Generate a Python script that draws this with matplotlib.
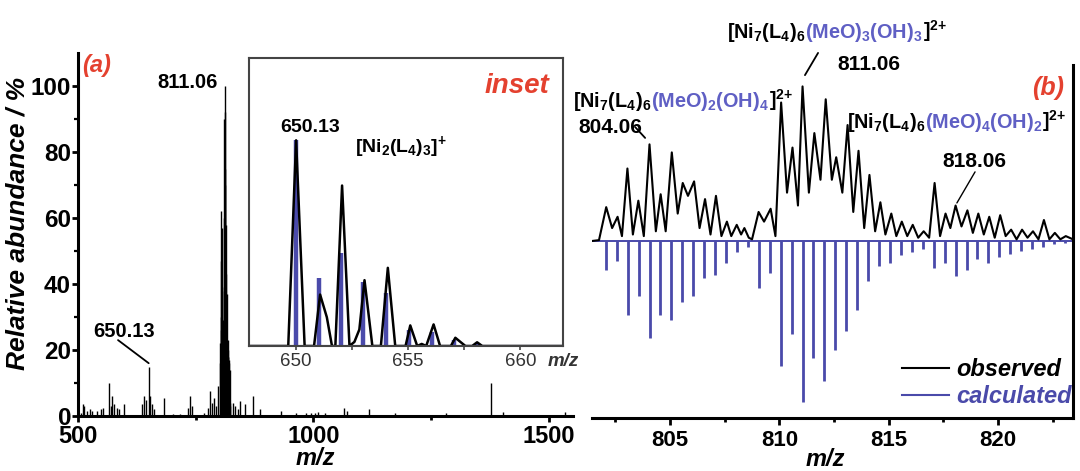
import matplotlib
matplotlib.use('Agg')
import matplotlib.pyplot as plt
import matplotlib.transforms as mtransforms
from matplotlib.lines import Line2D

plt.rcParams['font.family'] = ['Liberation Sans', 'DejaVu Sans']
plt.rcParams['font.weight'] = 'bold'
plt.rcParams['mathtext.fontset'] = 'custom'
plt.rcParams['mathtext.rm'] = 'Liberation Sans:bold'
plt.rcParams['mathtext.it'] = 'Liberation Sans:italic:bold'
plt.rcParams['mathtext.bf'] = 'Liberation Sans:bold'
plt.rcParams['mathtext.default'] = 'rm'

# ---------------- data ----------------
# (a) full spectrum, stick data (m/z, relative abundance %)
a_mz = [506, 510, 513, 520, 525, 530, 540, 548, 553, 566, 570, 573, 577, 582, 586, 598,
        636, 641, 645, 650.13, 653, 657, 661, 682, 702, 716, 733, 737, 741, 768, 776,
        781, 785, 789, 793, 797,
        802.06, 802.56, 803.06, 803.56, 804.06, 804.56, 805.06, 805.56, 806.06, 806.56,
        807.06, 807.56, 808.06, 808.56, 809.06, 809.56, 810.06, 810.56, 811.06, 811.56,
        812.06, 812.56, 813.06, 813.56, 814.06, 814.56, 815.06, 815.56, 816.06, 816.56,
        817.06, 817.56, 818.06, 818.56, 819.06, 819.56, 820.06, 820.56, 821.06, 821.56,
        822.06, 822.56, 823.06,
        829, 834, 840, 845, 854, 872, 886, 931, 963, 985, 995, 1003, 1010, 1025, 1064,
        1071, 1117, 1173, 1282, 1376, 1402, 1533]
a_int = [1, 3.5, 3, 1.5, 2, 1.5, 1.5, 2, 2.5, 10, 3, 6, 3.5, 2.5, 2, 3.5,
         3.5, 6, 5, 15, 6, 3.5, 2, 5.5, 0.7, 0.5, 2.5, 6, 3, 1, 2.5,
         7.5, 4, 5.5, 3, 9,
         22, 16, 47, 26, 62, 30, 57, 38, 39, 27,
         29, 12, 10, 8, 19, 21, 90, 60, 100, 70,
         92, 54, 75, 58, 43, 25, 18, 12, 10, 6,
         37, 18, 23, 20, 18, 16, 17, 7, 7, 6,
         14, 4, 3,
         4, 3, 2, 4.5, 3.5, 6, 2.2, 1.5, 1, 0.8, 1, 1, 1.2, 1, 2.5,
         1.5, 2.2, 1, 0.8, 10, 1.2, 1.3]

# inset: observed profile (vertices) and calculated sticks
in_obs_mz = [647.9, 649.65, 650.0, 650.38, 650.8, 651.07, 651.37, 651.6, 651.75, 652.05,
             652.38, 652.6, 652.82, 653.05, 653.4, 653.78, 654.09, 654.42, 654.88, 655.09,
             655.4, 655.6, 655.8, 656.13, 656.42, 656.9, 657.1, 657.38, 657.55, 657.85,
             658.07, 658.3, 661.9]
in_obs_int = [0, 0, 100, 0, 0, 25, 14, 0, 0, 78,
              0, 2, 8, 32, 0, 0, 38, 0, 0, 10,
              0, 1, 0, 10.5, 0, 0, 4, 1.5, 0, 0,
              1.8, 0, 0]
in_calc_mz = [650.0, 651.0, 652.0, 653.0, 654.0, 655.05, 656.05, 657.05, 658.05, 659.05]
in_calc_int = [100, 33, 45, 31, 26, 8, 7, 3, 1.5, 0.5]

# (b) observed profile (peak / valley vertices)
obs_mz = [801.45, 801.75, 802.08, 802.35, 802.6, 802.8, 803.05, 803.3, 803.55, 803.8,
          804.06, 804.35, 804.57, 804.8, 805.08, 805.35, 805.58, 805.82, 806.1, 806.35,
          806.6, 806.85, 807.1, 807.35, 807.6, 807.8, 808.05, 808.25, 808.4, 808.6,
          808.75, 809.05, 809.3, 809.6, 809.82, 810.08, 810.35, 810.6, 810.85, 811.06,
          811.35, 811.6, 811.88, 812.12, 812.4, 812.6, 812.88, 813.12, 813.38, 813.62,
          813.88, 814.12, 814.38, 814.62, 814.85, 815.12, 815.35, 815.6, 815.85, 816.1,
          816.35, 816.6, 816.85, 817.1, 817.35, 817.6, 817.82, 818.06, 818.33, 818.6,
          818.85, 819.1, 819.35, 819.6, 819.85, 820.1, 820.35, 820.6, 820.85, 821.1,
          821.35, 821.6, 821.85, 822.1, 822.35, 822.6, 822.85, 823.1, 823.43]
obs_int = [0, 0.5, 21, 8, 15, 3, 45, 4, 25, 3,
           60, 6, 29, 6, 55, 17, 36, 28, 37, 8,
           26, 4, 28, 3, 12, 3, 10, 4, 8, 2,
           1, 18, 12, 20, 3, 86, 30, 58, 22, 96,
           30, 67, 38, 88, 38, 52, 30, 72, 18, 56,
           8, 41, 6, 24, 4, 17, 3, 12, 3, 10,
           2, 6, 2, 36, 3, 17, 8, 22, 9, 19,
           5, 17, 4, 15, 2, 16, 3, 7, 1, 7,
           2, 6, 1, 13, 1, 5, 1, 3, 1]

# (b) calculated isotope pattern (plotted mirrored, downward)
calc_mz = [802.06, 802.56, 803.06, 803.56, 804.06, 804.56, 805.06, 805.56, 806.06, 806.56,
           807.06, 807.56, 808.06, 808.56, 809.06, 809.56, 810.06, 810.56, 811.06, 811.56,
           812.06, 812.56, 813.06, 813.56, 814.06, 814.56, 815.06, 815.56, 816.06, 816.56,
           817.06, 817.56, 818.06, 818.56, 819.06, 819.56, 820.06, 820.56, 821.06, 821.56,
           822.06, 822.56, 823.06]
calc_int = [18, 12.5, 46, 34, 60, 46, 49, 38, 34, 23,
            21, 14, 7, 4, 29, 20, 78, 58, 100, 73,
            87, 68, 56, 43, 25, 15.5, 13.5, 9, 7, 5,
            17, 13.5, 22, 18, 11.5, 13.5, 10, 8, 6, 5,
            4, 2, 1]

a_yticks = [0, 20, 40, 60, 80, 100]
a_xticks = [500, 1000, 1500]
b_xticks = [805, 810, 815, 820]
in_xticks = [650, 655, 660]

# ---------------- figure ----------------
W, H = 1080, 471
fig = plt.figure(figsize=(W / 100, H / 100), dpi=100)
renderer = fig.canvas.get_renderer()

BLUE = '#4a4aaa'
TBLUE = '#5f5fc4'
RED = '#e4412f'


def fx(px):
    return px / W


def fy(py):
    return 1 - py / H


def rect(l, t, r, b):
    return [fx(l), fy(b), (r - l) / W, (b - t) / H]


def multicolor(x_px, y_px, pieces, size):
    offset = 0.0
    for s, c in pieces:
        tr = mtransforms.offset_copy(fig.transFigure, fig=fig, x=offset, y=0, units='dots')
        t = fig.text(fx(x_px), fy(y_px), s, color=c, fontsize=size, fontweight='bold',
                     ha='left', va='baseline', transform=tr, zorder=1)
        offset += t.get_window_extent(renderer).width


ax_a = fig.add_axes(rect(78, 53, 573, 416))
ax_b = fig.add_axes(rect(592, 65, 1073, 418))
ax_in = fig.add_axes(rect(249, 58, 563, 346))

# ---- panel (a)
ax_a.vlines(a_mz, 0, a_int, color='black', lw=1.0)
ax_a.set_xlim(500, 1551)
ax_a.set_ylim(0, 110)
for s in ['top', 'right']:
    ax_a.spines[s].set_visible(False)
for s in ['left', 'bottom']:
    ax_a.spines[s].set_linewidth(2.2)
ax_a.set_yticks(a_yticks)
ax_a.set_yticks([10, 30, 50, 70, 90], minor=True)
ax_a.set_xticks(a_xticks)
ax_a.set_xticks([750, 1250], minor=True)
ax_a.tick_params(axis='y', which='major', length=4, width=2, labelsize=17.5, pad=1)
ax_a.tick_params(axis='y', which='minor', length=3, width=1.6)
ax_a.tick_params(axis='x', which='major', length=4.5, width=2, labelsize=17, pad=2)
ax_a.tick_params(axis='x', which='minor', length=3, width=2)
ax_a.set_xlabel('m/z', fontsize=17, fontstyle='italic', fontweight='bold')
ax_a.xaxis.set_label_coords(0.48, -0.085)
ax_a.set_ylabel('Relative abundance / %', fontsize=19, fontstyle='italic', fontweight='bold')
ax_a.yaxis.set_label_coords(-0.097, 0.53)
ax_a.patch.set_alpha(0)

fig.text(fx(82), fy(72), '(a)', color=RED, fontsize=17, fontstyle='italic',
         fontweight='bold', va='baseline')
fig.text(fx(157), fy(88), '811.06', fontsize=14.5, fontweight='bold', va='baseline')
fig.text(fx(93), fy(337), '650.13', fontsize=14.5, fontweight='bold', va='baseline')
ax_a.annotate('', xy=(650.13, 16), xytext=(585, 23),
              arrowprops=dict(arrowstyle='-', lw=1.3, color='black', shrinkA=0, shrinkB=0))

# ---- inset
ax_in.axhline(0, color=BLUE, lw=1.5)
ax_in.vlines(in_calc_mz, 0, in_calc_int, color=BLUE, lw=3.2)
ax_in.plot(in_obs_mz, in_obs_int, color='black', lw=1.8)
ax_in.set_xlim(647.9, 661.9)
ax_in.set_ylim(0, 140)
for s in ax_in.spines.values():
    s.set_color('#444444')
    s.set_linewidth(1.5)
ax_in.set_yticks([])
ax_in.set_xticks(in_xticks)
ax_in.set_xticks([652.5, 657.5], minor=True)
ax_in.tick_params(axis='x', which='both', length=3, width=1.2, color='#444444',
                  labelsize=13.5, labelcolor='#333333', pad=2)
for lab in ax_in.get_xticklabels():
    lab.set_fontweight('normal')
fig.text(fx(548), fy(366), 'm/z', fontsize=13.5, fontstyle='italic', fontweight='bold',
         color='#333333', va='baseline')
fig.text(fx(485), fy(93), 'inset', color=RED, fontsize=20, fontstyle='italic',
         fontweight='bold', va='baseline')
fig.text(fx(280), fy(132), '650.13', fontsize=14, fontweight='bold', va='baseline')
fig.text(fx(355), fy(152), r'$[Ni_2(L_4)_3]^{{+}}$', fontsize=14, fontweight='bold',
         va='baseline')

# ---- panel (b)
ax_b.axhline(0, color=BLUE, lw=1.4)
ax_b.vlines(calc_mz, 0, [-v for v in calc_int], color=BLUE, lw=2.0)
ax_b.plot(obs_mz, obs_int, color='black', lw=1.5)
ax_b.set_xlim(801.43, 823.43)
ax_b.set_ylim(-110, 109.3)
for s in ['top', 'left']:
    ax_b.spines[s].set_visible(False)
for s in ['right', 'bottom']:
    ax_b.spines[s].set_linewidth(2.2)
ax_b.set_yticks([])
ax_b.set_xticks(b_xticks)
ax_b.set_xticks([802.5, 807.5, 812.5, 817.5, 822.5], minor=True)
ax_b.tick_params(axis='x', which='major', length=5, width=2, labelsize=16, pad=4)
ax_b.tick_params(axis='x', which='minor', length=3, width=2)
ax_b.set_xlabel('m/z', fontsize=17, fontstyle='italic', fontweight='bold')
ax_b.xaxis.set_label_coords(0.485, -0.085)
ax_b.patch.set_alpha(0)

handles = [Line2D([], [], color='black', lw=1.5), Line2D([], [], color=BLUE, lw=1.5)]
leg = ax_b.legend(handles, ['observed', 'calculated'], loc='lower right',
                  bbox_to_anchor=(fx(1072), fy(408)), bbox_transform=fig.transFigure,
                  frameon=False, handlelength=2.0, handletextpad=0.3, labelspacing=0.15,
                  borderpad=0, borderaxespad=0,
                  prop=dict(size=17, style='italic', weight='bold'))
leg.get_texts()[1].set_color(BLUE)

fig.text(fx(1032), fy(95), '(b)', color=RED, fontsize=18, fontstyle='italic',
         fontweight='bold', va='baseline')

multicolor(727, 38, [(r'$[Ni_7(L_4)_6$', 'black'), (r'$(MeO)_3(OH)_3$', TBLUE),
                     (r'$]^{2{+}}$', 'black')], 14.3)
multicolor(573, 107, [(r'$[Ni_7(L_4)_6$', 'black'), (r'$(MeO)_2(OH)_4$', TBLUE),
                      (r'$]^{2{+}}$', 'black')], 14.3)
multicolor(847, 128, [(r'$[Ni_7(L_4)_6$', 'black'), (r'$(MeO)_4(OH)_2$', TBLUE),
                      (r'$]^{2{+}}$', 'black')], 14.3)

fig.text(fx(837), fy(70), '811.06', fontsize=15, fontweight='bold', va='baseline')
fig.text(fx(578), fy(133), '804.06', fontsize=15, fontweight='bold', va='baseline')
fig.text(fx(942), fy(167), '818.06', fontsize=15, fontweight='bold', va='baseline')

arrow = dict(arrowstyle='-', lw=1.3, color='black', shrinkA=0, shrinkB=0)
ax_b.annotate('', xy=(811.17, 103), xytext=(811.77, 116.8), arrowprops=arrow,
              annotation_clip=False)
ax_b.annotate('', xy=(803.86, 64), xytext=(803.4, 70.8), arrowprops=arrow,
              annotation_clip=False)
ax_b.annotate('', xy=(818.12, 23.6), xytext=(818.95, 42.9),
              arrowprops=dict(arrowstyle='-', lw=1.0, color='black', shrinkA=0, shrinkB=0),
              annotation_clip=False)

fig.savefig('out.png', dpi=100)
